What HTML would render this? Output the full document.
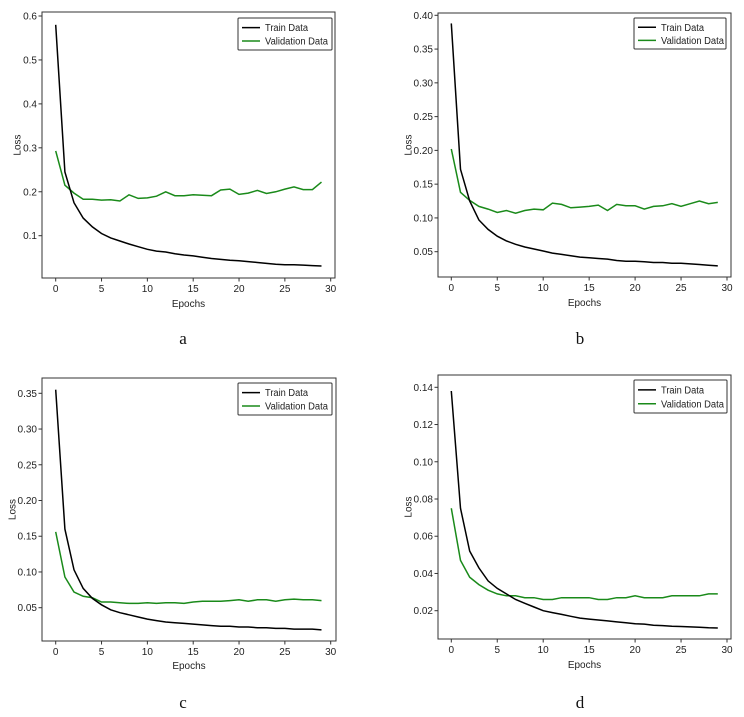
<!DOCTYPE html>
<html><head><meta charset="utf-8"><style>
body{margin:0;background:#fff;width:744px;height:717px;overflow:hidden}
svg{display:block}
text{font-family:"Liberation Sans","DejaVu Sans",sans-serif}
</style></head><body>
<svg id="s" width="744" height="717" xmlns="http://www.w3.org/2000/svg"></svg>
<script>
const P=[
{f:[42,12,335,278],x0:55.7,x30:330.7,yv:[0.6,0.1],yp:[16,235.7],ticks:[0.1,0.2,0.3,0.4,0.5,0.6],dec:1,lg:[238,18,332,50],loss:17,ep:307,let:"a",lx:183,ly:344,
t:[0.58,0.245,0.175,0.14,0.12,0.105,0.095,0.088,0.081,0.075,0.069,0.065,0.063,0.059,0.056,0.054,0.051,0.048,0.046,0.044,0.043,0.041,0.039,0.037,0.035,0.034,0.034,0.033,0.032,0.031],
v:[0.293,0.215,0.197,0.183,0.183,0.181,0.182,0.179,0.193,0.185,0.186,0.19,0.2,0.191,0.191,0.193,0.192,0.191,0.204,0.206,0.194,0.197,0.203,0.196,0.2,0.206,0.211,0.205,0.205,0.222]},
{f:[438,13,731,277],x0:451.3,x30:727,yv:[0.4,0.05],yp:[15.3,251.7],ticks:[0.05,0.1,0.15,0.2,0.25,0.3,0.35,0.4],dec:2,lg:[634,18,726,49],loss:408,ep:306,let:"b",lx:580,ly:344,
t:[0.388,0.172,0.125,0.097,0.083,0.073,0.066,0.061,0.057,0.054,0.051,0.048,0.046,0.044,0.042,0.041,0.040,0.039,0.037,0.036,0.036,0.035,0.034,0.034,0.033,0.033,0.032,0.031,0.030,0.029],
v:[0.202,0.138,0.126,0.117,0.113,0.108,0.111,0.107,0.111,0.113,0.112,0.122,0.12,0.115,0.116,0.117,0.119,0.111,0.12,0.118,0.118,0.113,0.117,0.118,0.121,0.117,0.121,0.125,0.121,0.123]},
{f:[42,378,336,641],x0:55.7,x30:330.7,yv:[0.35,0.05],yp:[393.3,607.7],ticks:[0.05,0.1,0.15,0.2,0.25,0.3,0.35],dec:2,lg:[238,383,332,415],loss:12,ep:669,let:"c",lx:183,ly:708,
t:[0.355,0.16,0.103,0.077,0.063,0.054,0.047,0.043,0.040,0.037,0.034,0.032,0.030,0.029,0.028,0.027,0.026,0.025,0.024,0.024,0.023,0.023,0.022,0.022,0.021,0.021,0.020,0.020,0.020,0.019],
v:[0.156,0.093,0.072,0.066,0.064,0.058,0.058,0.057,0.056,0.056,0.057,0.056,0.057,0.057,0.056,0.058,0.059,0.059,0.059,0.06,0.061,0.059,0.061,0.061,0.059,0.061,0.062,0.061,0.061,0.060]},
{f:[438,375,731,639],x0:451.3,x30:727,yv:[0.14,0.02],yp:[387.3,610.7],ticks:[0.02,0.04,0.06,0.08,0.1,0.12,0.14],dec:2,lg:[634,380,727,413],loss:408,ep:668,let:"d",lx:580,ly:708,
t:[0.138,0.075,0.052,0.043,0.036,0.032,0.029,0.026,0.024,0.022,0.020,0.019,0.018,0.017,0.016,0.0155,0.015,0.0145,0.014,0.0135,0.013,0.0128,0.0122,0.012,0.0117,0.0115,0.0113,0.0111,0.0108,0.0107],
v:[0.075,0.047,0.038,0.034,0.031,0.029,0.028,0.028,0.027,0.027,0.026,0.026,0.027,0.027,0.027,0.027,0.026,0.026,0.027,0.027,0.028,0.027,0.027,0.027,0.028,0.028,0.028,0.028,0.029,0.029]}];
let h="";
for(const p of P){
 const [l,t,r,b]=p.f;
 const X=e=>p.x0+(p.x30-p.x0)*e/30;
 const Y=v=>p.yp[0]+(p.yp[1]-p.yp[0])*(v-p.yv[0])/(p.yv[1]-p.yv[0]);
 h+=`<rect x="${l}" y="${t}" width="${r-l}" height="${b-t}" fill="none" stroke="#333" stroke-width="1"/>`;
 for(const tv of p.ticks){const y=Y(tv);h+=`<line x1="${l-3.5}" x2="${l}" y1="${y}" y2="${y}" stroke="#333"/><text x="${l-5}" y="${y+3.5}" font-size="10" text-anchor="end" fill="#222">${tv.toFixed(p.dec)}</text>`;}
 for(let e=0;e<=30;e+=5){const x=X(e);h+=`<line x1="${x}" x2="${x}" y1="${b}" y2="${b+3.5}" stroke="#333"/><text x="${x}" y="${b+14}" font-size="10" text-anchor="middle" fill="#222">${e}</text>`;}
 const pl=a=>a.map((v,i)=>X(i).toFixed(1)+","+Y(v).toFixed(1)).join(" ");
 h+=`<polyline points="${pl(p.v)}" fill="none" stroke="#1a8a1a" stroke-width="1.5"/>`;
 h+=`<polyline points="${pl(p.t)}" fill="none" stroke="#000" stroke-width="1.5"/>`;
 const [a,c,d,e]=p.lg;
 h+=`<rect x="${a}" y="${c}" width="${d-a}" height="${e-c}" fill="#fff" stroke="#333" rx="1"/>`;
 const m1=c+(e-c)*0.3,m2=c+(e-c)*0.72;
 h+=`<line x1="${a+4}" x2="${a+22}" y1="${m1}" y2="${m1}" stroke="#000" stroke-width="1.5"/><text x="${a+27}" y="${m1+3.5}" font-size="10" fill="#222" textLength="43" lengthAdjust="spacingAndGlyphs">Train Data</text>`;
 h+=`<line x1="${a+4}" x2="${a+22}" y1="${m2}" y2="${m2}" stroke="#1a8a1a" stroke-width="1.5"/><text x="${a+27}" y="${m2+3.5}" font-size="10" fill="#222" textLength="63" lengthAdjust="spacingAndGlyphs">Validation Data</text>`;
 const my=(t+b)/2;
 h+=`<text transform="translate(${p.loss+3.5},${my}) rotate(-90)" font-size="10" text-anchor="middle" fill="#222">Loss</text>`;
 h+=`<text x="${(l+r)/2}" y="${p.ep}" font-size="10" text-anchor="middle" fill="#222">Epochs</text>`;
 h+=`<text x="${p.lx}" y="${p.ly}" font-size="17" text-anchor="middle" fill="#111" style="font-family:'Liberation Serif',serif">${p.let}</text>`;
}
document.getElementById("s").innerHTML=h;
</script>
</body></html>
